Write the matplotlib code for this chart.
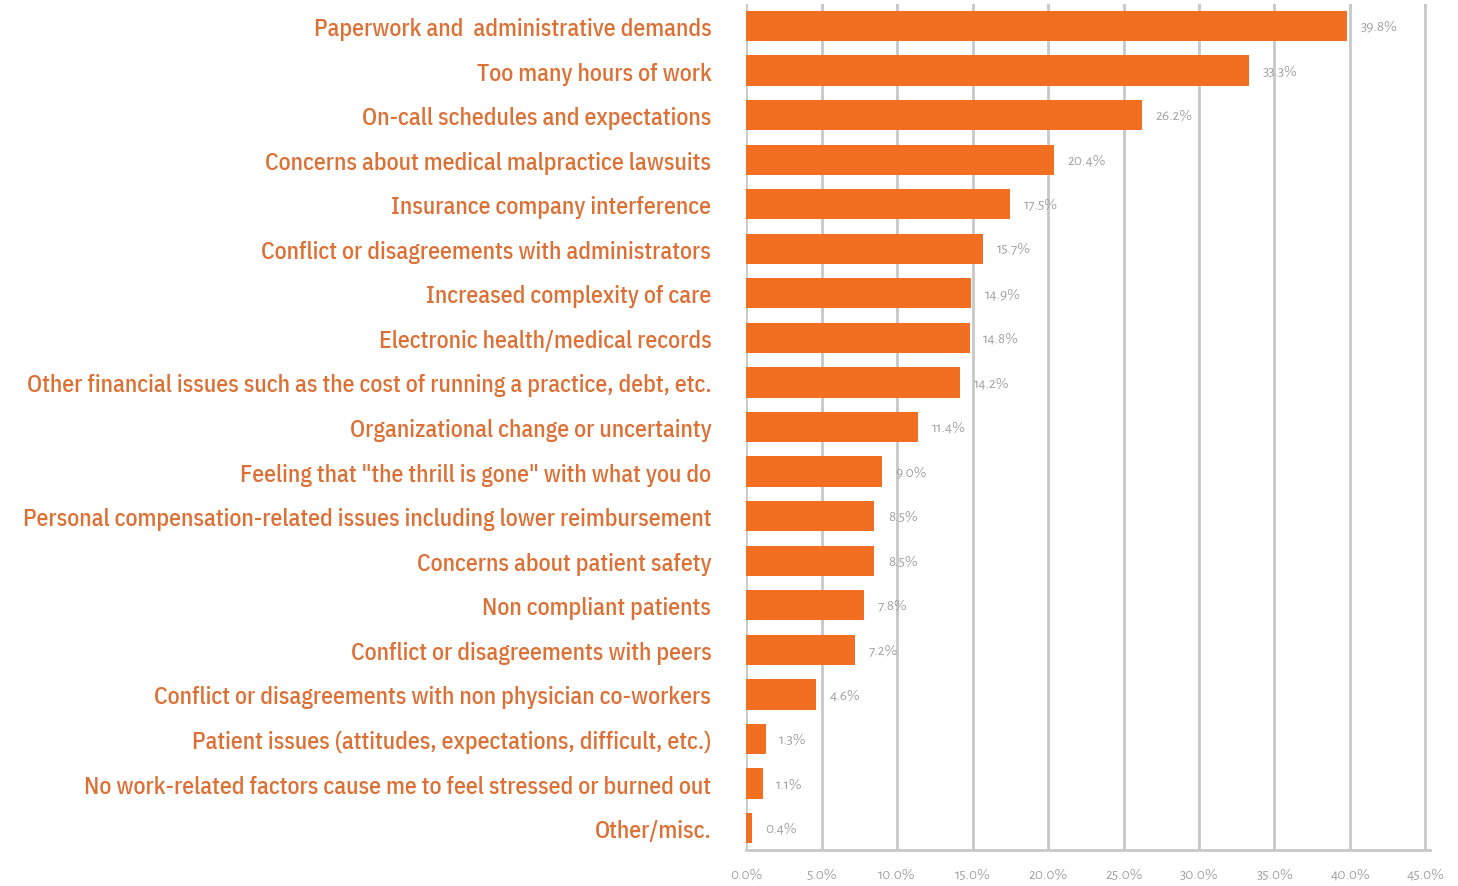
import matplotlib
matplotlib.use("Agg")
import matplotlib.pyplot as plt
from matplotlib import font_manager

categories = [
    "Paperwork and  administrative demands",
    "Too many hours of work",
    "On-call schedules and expectations",
    "Concerns about medical malpractice lawsuits",
    "Insurance company interference",
    "Conflict or disagreements with administrators",
    "Increased complexity of care",
    "Electronic health/medical records",
    "Other financial issues such as the cost of running a practice, debt, etc.",
    "Organizational change or uncertainty",
    "Feeling that \"the thrill is gone\" with what you do",
    "Personal compensation-related issues including lower reimbursement",
    "Concerns about patient safety",
    "Non compliant patients",
    "Conflict or disagreements with peers",
    "Conflict or disagreements with non physician co-workers",
    "Patient issues (attitudes, expectations, difficult, etc.)",
    "No work-related factors cause me to feel stressed or burned out",
    "Other/misc.",
]
values = [39.8, 33.3, 26.2, 20.4, 17.5, 15.7, 14.9, 14.8, 14.2, 11.4,
          9.0, 8.5, 8.5, 7.8, 7.2, 4.6, 1.3, 1.1, 0.4]
xticks = [0, 5, 10, 15, 20, 25, 30, 35, 40, 45]

available = {f.name for f in font_manager.fontManager.ttflist}


def pick(*names):
    for n in names:
        if n in available:
            return n
    return "DejaVu Sans"


label_font = pick("Ubuntu Condensed", "IBM Plex Sans Condensed",
                  "Roboto Condensed", "Open Sans Condensed")
label_weight = 400 if label_font == "Ubuntu Condensed" else 500
number_font = pick("Alegreya Sans", "Ubuntu", "Open Sans")

ORANGE = "#F26F21"
TEXT_ORANGE = "#DC7035"
GRID = "#C8C8C8"
VALUE_GRAY = "#A0A0A0"

fig = plt.figure(figsize=(14.58, 8.87), dpi=100)
ax = fig.add_axes([0.5117, 0.0402, 0.4691, 0.9545])

y = list(range(len(categories)))
ax.barh(y, values, height=0.68, color=ORANGE, zorder=3)
ax.set_ylim(len(categories) - 0.5, -0.5)
ax.set_xlim(0, 45.3)

ax.set_xticks(xticks)
ax.set_xticklabels([f"{t:.1f}%" for t in xticks], color=VALUE_GRAY,
                   fontsize=11, family=number_font)
ax.tick_params(axis="x", length=0, pad=12)
ax.set_yticks(y)
labels = ax.set_yticklabels(categories, color=TEXT_ORANGE, fontsize=16,
                            family=label_font, fontweight=label_weight)
ax.tick_params(axis="y", length=0, pad=25)

# scale the category font so the longest label spans ~693 px
fig.canvas.draw()
renderer = fig.canvas.get_renderer()
widest = max(t.get_window_extent(renderer).width for t in labels)
size = 16 * 693.0 / widest
for t in labels:
    t.set_fontsize(size)

for t in xticks:
    ax.axvline(t, color=GRID, lw=2, zorder=1)

for s in ["top", "right", "left"]:
    ax.spines[s].set_visible(False)
ax.spines["bottom"].set_color(GRID)
ax.spines["bottom"].set_linewidth(2)

for yi, v in zip(y, values):
    ax.text(v + 0.9, yi, f"{v:.1f}%", va="center", ha="left",
            color=VALUE_GRAY, fontsize=11, family=number_font, zorder=4)

fig.savefig("out.png", dpi=100)
